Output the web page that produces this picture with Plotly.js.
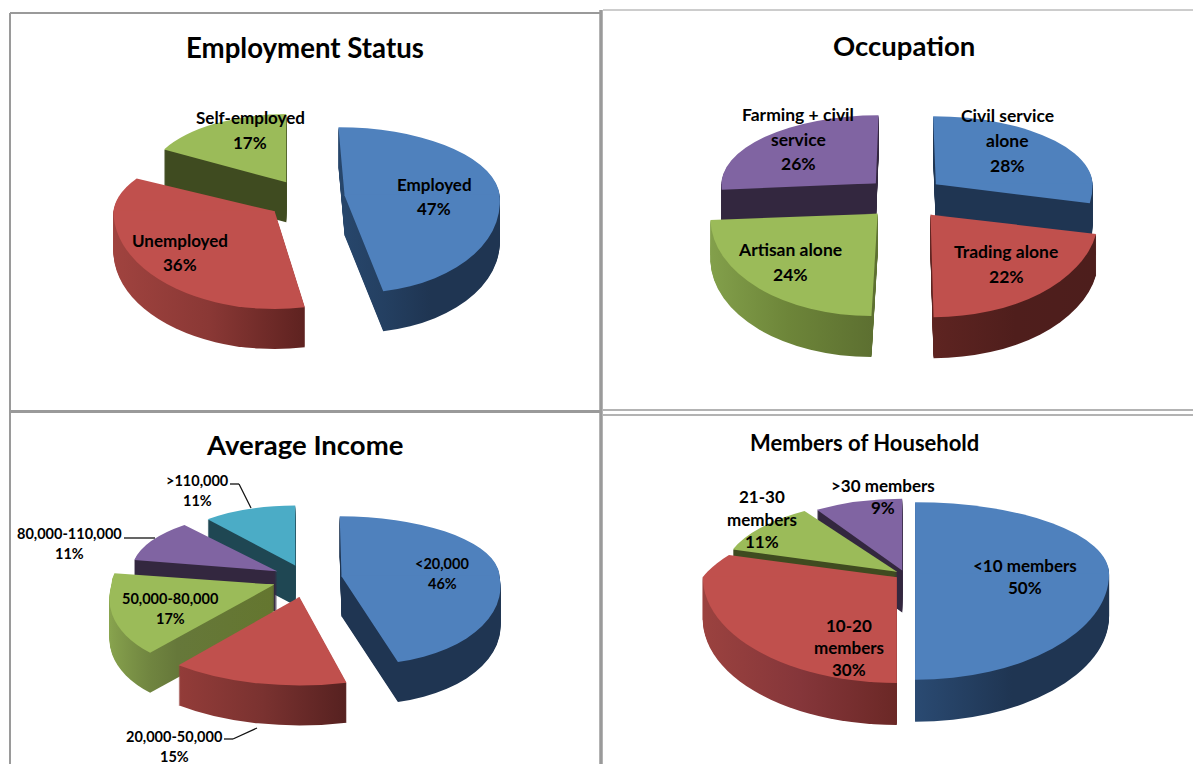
<!DOCTYPE html>
<html>
<head>
<meta charset="utf-8">
<script src="https://cdn.plot.ly/plotly-3.0.1.min.js"></script>
<style>html,body{margin:0;padding:0;background:#fff}#chart{width:1193px;height:764px}</style>
</head>
<body>
<div id="chart"></div>
<svg width="0" height="0" style="position:absolute"><defs id="grads"></defs></svg>
<script>
// ---- data ----
var employmentLabels = [["Employed"], ["Unemployed"], ["Self-employed"]];
var employmentValues = [47, 36, 17];
var occupationLabels = [["Civil service", "alone"], ["Trading alone"], ["Artisan alone"], ["Farming + civil", "service"]];
var occupationValues = [28, 22, 24, 26];
var incomeLabels = [["<20,000"], ["20,000-50,000"], ["50,000-80,000"], ["80,000-110,000"], [">110,000"]];
var incomeValues = [46, 15, 17, 11, 11];
var householdLabels = [["<10 members"], ["10-20", "members"], ["21-30", "members"], [">30 members"]];
var householdValues = [50, 30, 11, 9];

// ---- styles ----
var W = 1193, H = 764, FONT = 'Lato, "Open Sans", sans-serif';
var BLUE = '#4f81bd', RED = '#c0504d', GREEN = '#9bbb59', PURPLE = '#8064a2', TEAL = '#4bacc6';
// widen: horizontal stretch per slice; lean / leanBack: sideways lean of the near / far part per slice (imitating 3-D perspective)
var panels = [
  {title: 'Employment Status', tx: 305, ty: 47, tsize: 27.6, labels: employmentLabels, values: employmentValues,
   cx: 306, cy: 197, r: 155, kBack: 0.44, kFront: 0.63, depth: 40, pull: 0.25, rot: 0, size: 17, lh: 24.5,
   widen: [1, 1.04, 0.9], lean: [0.1, 0, 0], leanBack: [0.09, -0.1, 0],
   top: [BLUE, RED, GREEN],
   wall: [['#27466b', '#1f3552', '#1f3552'], ['#a0433f', '#8a3835', '#5e2220'], ['#3f4b20', '#3f4b20', '#3f4b20']],
   pos: [[434, 184], [180, 240], [250, 118]]},
  {title: 'Occupation', tx: 904, ty: 45, tsize: 27.5, labels: occupationLabels, values: occupationValues,
   cx: 905, cy: 195, r: 160, kBack: 0.425, kFront: 0.64, depth: 41, pull: 0.25, rot: 0, size: 17.5, lh: 25,
   widen: [0.98, 1.05, 1.045, 0.965], lean: [0, 0.03, -0.06, 0], leanBack: [0.04, 0, 0, -0.04],
   top: [BLUE, RED, GREEN, PURPLE],
   wall: [['#1f3552', '#1f3552', '#1f3552'], ['#5e2421', '#4f1e1c', '#4d1e1c'], ['#83a04b', '#6d8539', '#5d7031'], ['#33273f', '#33273f', '#33273f']],
   pos: [[1007, 115], [1006, 252], [790, 249], [798, 114]]},
  {title: 'Average Income', tx: 304, ty: 444, tsize: 27.5, labels: incomeLabels, values: incomeValues,
   cx: 307, cy: 578, r: 158, kBack: 0.38, kFront: 0.56, depth: 40, pull: 0.22, rot: 0, size: 14.5, lh: 20,
   widen: [1, 1.2, 1.03, 0.92, 0.87], lean: [0.2, 0, -0.3, 0, 0], leanBack: [0.03, 0, 0, 0, 0],
   top: [BLUE, RED, GREEN, PURPLE, TEAL],
   wall: [['#1f3552', '#1f3552', '#1f3552'], ['#933c39', '#7a3230', '#562120'], ['#8aa64f', '#66783a', '#64762f'], ['#33273f', '#33273f', '#33273f'], ['#1f4753', '#1f4753', '#1f4753']],
   pos: [[442, 563], [174, 736], [170, 598], [69, 533], [197, 480]]},
  {title: 'Members of Household', tx: 864, ty: 443, tsize: 22, labels: householdLabels, values: householdValues,
   cx: 905, cy: 574, r: 194, kBack: 0.37, kFront: 0.545, depth: 42, pull: 0.052, rot: 0, size: 17, lh: 22.3,
   widen: [1, 1, 0.89, 0.82], lean: [0, 0, 0, 0], leanBack: [0, -0.75, 0, 0],
   top: [BLUE, RED, GREEN, PURPLE],
   wall: [['#2a4a72', '#1f3552', '#1f3552'], ['#9b423f', '#85363a', '#6b2826'], ['#3f4b20', '#3f4b20', '#3f4b20'], ['#33273f', '#33273f', '#33273f']],
   pos: [[1025, 565], [849, 625], [762, 497], [883, 485]]}
];

// ---- frame lines and leader lines (page furniture, in pixels) ----
var GRAY = '#9a9a9a';
var frame = [
  [10, 13, 600, 13, 2], [10, 13, 10, 764, 2], [601, 10, 601, 764, 3.5],
  [603, 10, 1193, 10, 1], [10, 411.5, 600, 411.5, 3], [603, 410, 1193, 410, 1.5], [603, 415, 1193, 415, 1.5]
];
var leaders = [
  [[230, 484], [239, 484], [251, 508]],
  [[124, 538], [155, 538]],
  [[224, 739], [233, 739], [257, 728]]
];

function px(x) { return x / W; }
function py(y) { return 1 - y / H; }

var traces = [], annotations = [], shapes = [], meta = [];
var gradSvg = '';

panels.forEach(function (p, pi) {
  var half = p.r * (1 + p.pull);
  var domain = {x: [px(p.cx - half), px(p.cx + half)], y: [0.5 - half / H, 0.5 + half / H]};
  var base = {
    type: 'pie', values: p.values, labels: p.labels.map(function (l) { return l.join(' '); }),
    sort: false, direction: 'clockwise', rotation: p.rot, domain: domain,
    pull: p.values.map(function () { return p.pull; }),
    textinfo: 'none', hoverinfo: 'skip', showlegend: false,
    marker: {colors: p.top, line: {width: 0}}
  };
  // each slice's tip before the tilt, so far and near parts can be tilted differently
  var sum = p.values.reduce(function (a, b) { return a + b; }, 0), run = 0;
  p.tipX = []; p.tipY = [];
  p.values.forEach(function (v, i) {
    var mid = (p.rot + 360 * (run + v / 2) / sum) * Math.PI / 180;
    run += v;
    var y = H / 2 - p.pull * p.r * Math.cos(mid);
    p.tipX.push(p.cx + p.pull * p.r * Math.sin(mid));
    p.tipY.push(y);
    ['back', 'front'].forEach(function (part) {
      var rect = part === 'back' ? [-2000, y + 1 + 2000] : [y - 1, 4000];
      gradSvg += '<clipPath id="c' + pi + '_' + i + '_' + part + '"><rect x="-2000" width="6000" y="' + rect[0] +
        '" height="' + rect[1] + '"/></clipPath>';
    });
  });
  // side walls (stacked copies, deepest first), then the top surface
  for (var d = p.depth; d >= 0; d--) {
    ['back', 'front'].forEach(function (part) {
      traces.push(Object.assign({}, base));
      meta.push({p: p, pi: pi, dy: d, part: part});
    });
  }
  p.wall.forEach(function (w, i) {
    gradSvg += '<linearGradient id="w' + pi + '_' + i + '" x1="0" x2="1" y1="0" y2="0">' +
      '<stop offset="0" stop-color="' + w[0] + '"/><stop offset="0.5" stop-color="' + w[1] + '"/>' +
      '<stop offset="1" stop-color="' + w[2] + '"/></linearGradient>';
  });

  annotations.push({text: p.title, x: px(p.tx), y: py(p.ty), xref: 'paper', yref: 'paper',
    xanchor: 'center', yanchor: 'middle', showarrow: false,
    font: {family: FONT, size: p.tsize, color: '#000', weight: 700}});

  p.labels.forEach(function (lines, i) {
    lines.concat([p.values[i] + '%']).forEach(function (t, j) {
      annotations.push({text: t.replace(/</g, '&lt;').replace(/>/g, '&gt;'),
        x: px(p.pos[i][0]), y: py(p.pos[i][1] + j * p.lh), xref: 'paper', yref: 'paper',
        xanchor: 'center', yanchor: 'middle', showarrow: false,
        font: {family: FONT, size: p.size, color: '#000', weight: 700}});
    });
  });
});
document.getElementById('grads').innerHTML = gradSvg;

frame.forEach(function (f) {
  shapes.push({type: 'line', xref: 'paper', yref: 'paper', x0: px(f[0]), y0: py(f[1]), x1: px(f[2]), y1: py(f[3]),
    line: {color: GRAY, width: f[4]}});
});
leaders.forEach(function (pts) {
  for (var i = 0; i < pts.length - 1; i++) {
    shapes.push({type: 'line', xref: 'paper', yref: 'paper', x0: px(pts[i][0]), y0: py(pts[i][1]),
      x1: px(pts[i + 1][0]), y1: py(pts[i + 1][1]), line: {color: '#111', width: 1.3}});
  }
});

Plotly.newPlot('chart', traces, {
  width: W, height: H, margin: {l: 0, r: 0, t: 0, b: 0, pad: 0},
  paper_bgcolor: '#fff', plot_bgcolor: '#fff', showlegend: false,
  annotations: annotations, shapes: shapes, hovermode: false
}, {displayModeBar: false, staticPlot: true}).then(function () {
  // tilt: the far part of each slice is flattened more than the near part
  document.querySelectorAll('#chart .pielayer .trace').forEach(function (g, n) {
    var m = meta[n], p = m.p;
    g.querySelectorAll('.slice').forEach(function (s, i) {
      var tipY = p.tipY[i], tipX = p.tipX[i];
      var kTip = tipY < H / 2 ? p.kBack : p.kFront;
      var k = m.part === 'back' ? p.kBack : p.kFront;
      var a = p.widen[i];
      var c = (m.part === 'back' ? p.leanBack[i] : p.lean[i]) * k;
      var e = tipX * (1 - a) - c * tipY;
      var f = p.cy + (tipY - H / 2) * kTip + m.dy - tipY * k;
      s.setAttribute('transform', 'matrix(' + a + ',0,' + c + ',' + k + ',' + e + ',' + f + ')');
      var path = s.querySelector('path.surface');
      path.setAttribute('clip-path', 'url(#c' + m.pi + '_' + i + '_' + m.part + ')');
      if (m.dy > 0) path.style.fill = 'url(#w' + m.pi + '_' + i + ')';
    });
  });
});
</script>
</body>
</html>
